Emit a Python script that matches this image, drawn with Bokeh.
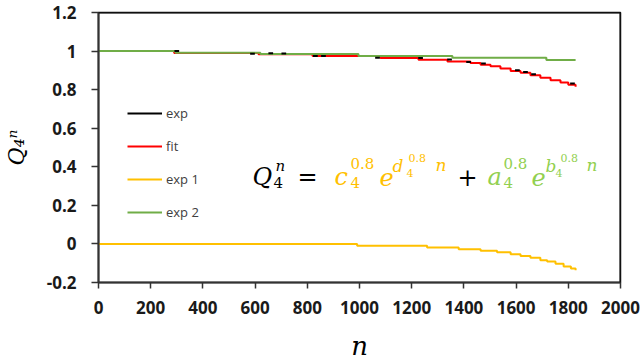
import math
from bokeh.plotting import figure
from bokeh.models import Range1d, Legend, LegendItem, Label, FixedTicker, Span
from bokeh.embed import file_html
from bokeh.resources import INLINE

# ---------------- data ----------------
x_ticks = [0, 200, 400, 600, 800, 1000, 1200, 1400, 1600, 1800, 2000]
y_ticks = [-0.2, 0, 0.2, 0.4, 0.6, 0.8, 1.0, 1.2]
y_tick_labels = ["-0.2", "0", "0.2", "0.4", "0.6", "0.8", "1", "1.2"]

exp2_n = [0, 295, 620, 996, 1356, 1716, 1828]
exp2_q = [1.0, 0.991, 0.985, 0.975, 0.966, 0.954, 0.954]

exp1_n = [0, 991, 1259, 1380, 1464, 1527, 1579, 1617, 1655, 1693, 1719, 1751, 1782, 1810, 1828]
exp1_q = [0.0, -0.009, -0.019, -0.028, -0.036, -0.043, -0.053, -0.062, -0.072, -0.084,
          -0.091, -0.103, -0.117, -0.128, -0.137]

fit_n = [0, 290, 613, 820, 1080, 1226, 1337, 1425, 1464, 1502, 1540, 1579, 1617, 1655,
         1693, 1732, 1770, 1800, 1828]
fit_q = [1.0, 0.990, 0.983, 0.974, 0.964, 0.955, 0.946, 0.938, 0.929, 0.921, 0.909, 0.897,
         0.887, 0.875, 0.862, 0.849, 0.837, 0.826, 0.815]

exp_n = [300, 590, 660, 710, 831, 862, 1069, 1234, 1345, 1418, 1475, 1605, 1636, 1667, 1816]
exp_q = [1.0, 0.986, 0.989, 0.988, 0.974, 0.974, 0.966, 0.964, 0.956, 0.943, 0.935, 0.900,
         0.892, 0.880, 0.832]

legend_labels = ["exp", "fit", "exp 1", "exp 2"]

# ---------------- styling / layout ----------------
W, H = 640, 363
LEFT, RIGHT, TOP, BOTTOM = 98, 20, 12, 81
BLACK, RED, YELLOW, GREEN, LGREEN = "#000000", "#FF0000", "#FFC000", "#70AD47", "#92D050"

p = figure(width=W, height=H, output_backend="svg", toolbar_location=None,
           x_range=Range1d(0, 2000), y_range=Range1d(-0.2, 1.2),
           min_border_left=LEFT, min_border_right=RIGHT,
           min_border_top=TOP, min_border_bottom=BOTTOM)
p.background_fill_color = "white"
p.border_fill_color = "white"
p.outline_line_color = "#111111"
p.outline_line_alpha = 1.0
p.outline_line_width = 1.5
p.grid.visible = False

for ax in (p.xaxis[0], p.yaxis[0]):
    ax.axis_line_color = "#333333"
    ax.axis_line_width = 2
    ax.major_tick_line_color = "#333333"
    ax.major_tick_line_width = 1.5
    ax.major_tick_in = 0
    ax.minor_tick_line_color = None
    ax.major_label_text_font = "Open Sans"
    ax.major_label_text_font_size = "17px"
    ax.major_label_text_font_style = "bold"
    ax.major_label_text_color = "#1a1a1a"
    ax.axis_label_text_font = "DejaVu Serif"
    ax.axis_label_text_font_style = "italic"
    ax.axis_label_text_color = BLACK

p.xaxis[0].ticker = FixedTicker(ticks=x_ticks)
p.xaxis[0].major_tick_out = 6
p.xaxis[0].major_label_standoff = 12
p.xaxis[0].axis_label = "n"
p.xaxis[0].axis_label_text_font_size = "26px"
p.xaxis[0].axis_label_standoff = 14

p.yaxis[0].ticker = FixedTicker(ticks=y_ticks)
p.yaxis[0].major_label_overrides = {t: l for t, l in zip(y_ticks, y_tick_labels)}
p.yaxis[0].major_tick_out = 7
p.yaxis[0].major_label_standoff = 15
p.yaxis[0].axis_label = "Q\u2084\u207f"
p.yaxis[0].axis_label_text_font_size = "22px"
p.yaxis[0].axis_label_standoff = 15

# frame border on top / right
p.add_layout(Span(location=1.2, dimension="width", line_color="#111111", line_width=2))
p.add_layout(Span(location=2000, dimension="height", line_color="#111111", line_width=2))

# ---------------- series ----------------
r_fit = p.step(fit_n, fit_q, mode="after", line_color=RED, line_width=2)
r_exp1 = p.step(exp1_n, exp1_q, mode="after", line_color=YELLOW, line_width=2)
r_exp2 = p.step(exp2_n, exp2_q, mode="after", line_color=GREEN, line_width=2)
half = 9
r_exp = p.segment(x0=[v - half for v in exp_n], y0=exp_q,
                  x1=[v + half for v in exp_n], y1=exp_q,
                  line_color=BLACK, line_width=2)

legend = Legend(items=[LegendItem(label=legend_labels[0], renderers=[r_exp]),
                       LegendItem(label=legend_labels[1], renderers=[r_fit]),
                       LegendItem(label=legend_labels[2], renderers=[r_exp1]),
                       LegendItem(label=legend_labels[3], renderers=[r_exp2])],
                location=(29, 60), orientation="vertical",
                glyph_width=35, glyph_height=20, label_height=20, spacing=13,
                label_standoff=4, padding=0, margin=0,
                label_text_font="Open Sans", label_text_font_size="13px",
                label_text_color="#404040",
                border_line_color=None, background_fill_alpha=0)
p.add_layout(legend, "center")

# ---------------- math text (positioned in reference pixels) ----------------
FX0, FX1 = 98.0, 620.0      # frame left/right in page px
FY0, FY1 = 12.0, 282.0      # frame top/bottom in page px


def nx(px):
    return (px - FX0) / (FX1 - FX0) * 2000.0


def qy(py):
    return 1.2 - (py - FY0) / (FY1 - FY0) * 1.4


def put(txt, px, py, size, color=BLACK, style="italic"):
    p.add_layout(Label(x=nx(px), y=qy(py), text=txt,
                       text_font="DejaVu Serif", text_font_style=style,
                       text_font_size=f"{size}px", text_color=color,
                       text_align="left", text_baseline="alphabetic"))


# Q_4^n =
put("Q", 252, 176, 24)
put("n", 275, 165, 15)
put("4", 273, 182, 15, style="normal")
put("=", 297, 176, 24, style="normal")
# c_4^0.8 e^{d_4^0.8 n}
put("c", 334, 176, 24, YELLOW)
put("0.8", 350, 163, 15, YELLOW, "normal")
put("4", 350, 182, 15, YELLOW, "normal")
put("e", 379, 176, 24, YELLOW)
put("d", 392, 165, 17, YELLOW)
put("4", 406, 172, 11, YELLOW, "normal")
put("0.8", 408, 157, 11, YELLOW, "normal")
put("n", 435, 164, 17, YELLOW)
# +
put("+", 457, 176, 24, style="normal")
# a_4^0.8 e^{b_4^0.8 n}
put("a", 487, 176, 24, LGREEN)
put("0.8", 503, 163, 15, LGREEN, "normal")
put("4", 503, 182, 15, LGREEN, "normal")
put("e", 531, 176, 24, LGREEN)
put("b", 545, 165, 17, LGREEN)
put("4", 555, 172, 11, LGREEN, "normal")
put("0.8", 560, 157, 11, LGREEN, "normal")
put("n", 586, 164, 17, LGREEN)

open("out.html", "w").write(file_html(p, INLINE))
